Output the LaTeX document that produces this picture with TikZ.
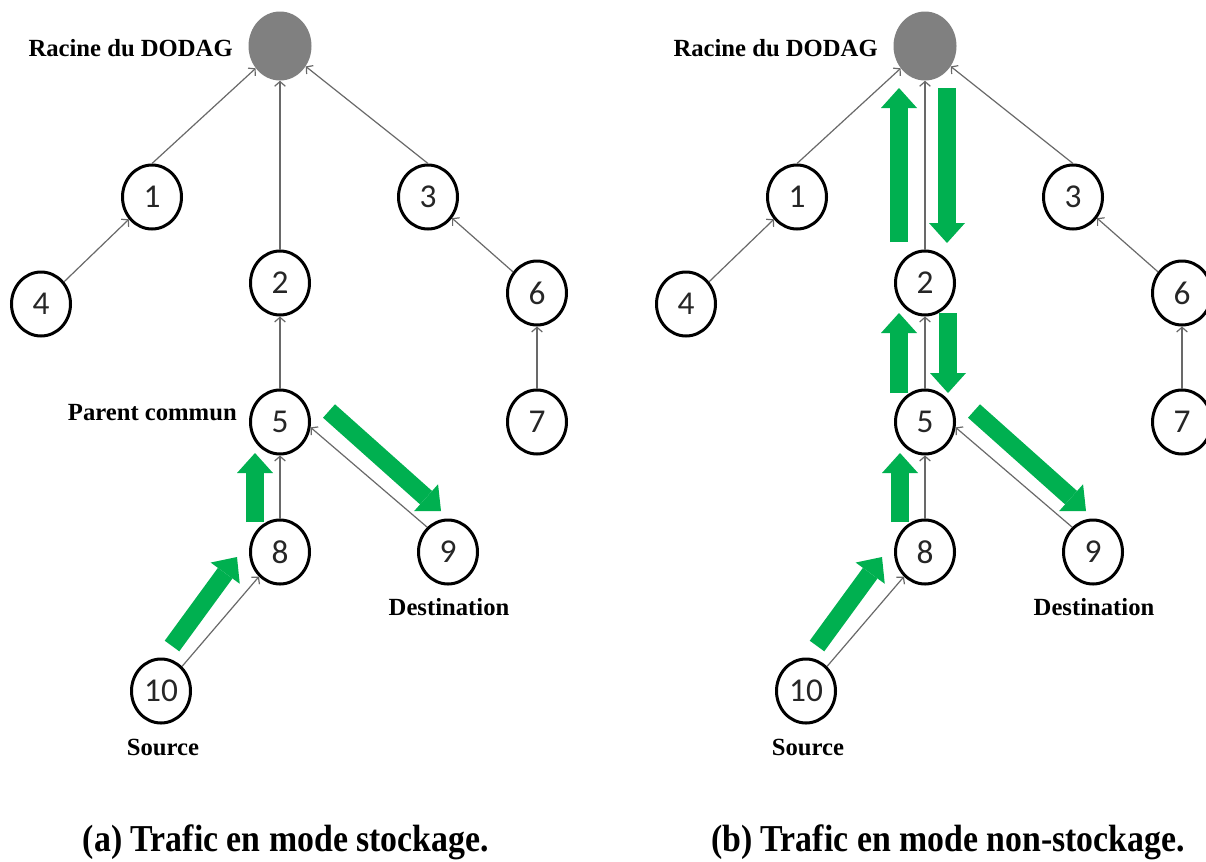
\documentclass[tikz,border=0pt]{standalone}
\usepackage{fontspec}
\setmainfont{Liberation Serif}
\newfontfamily\numfont{Carlito}
\newfontfamily\capfont[FakeStretch=0.89]{Liberation Serif}
\usetikzlibrary{arrows.meta,shapes.geometric}
\definecolor{grn}{RGB}{0,176,80}
\definecolor{edgegray}{RGB}{105,105,105}
\definecolor{rootgray}{RGB}{128,128,128}
\tikzset{
  nd/.style={ellipse, draw=black, line width=2.25pt, minimum width=44.25pt, minimum height=48pt,
    inner sep=0pt, fill=white, text=black!85, font=\numfont\fontsize{25}{25}\selectfont},
  rootnd/.style={ellipse, fill=rootgray, minimum width=47.25pt, minimum height=51.75pt, inner sep=0pt},
  conn/.style={draw=edgegray, line width=0.9pt, -{Straight Barb[length=3.5pt,width=8pt]}},
  flow/.style={draw=grn, line width=13.5pt, -{Triangle[length=15pt,width=27pt,line width=0pt]}},
  lbl/.style={font=\bfseries\fontsize{18.5}{20}\selectfont, inner sep=0pt},
  captxt/.style={font=\capfont\bfseries\fontsize{28.5}{30}\selectfont, inner sep=0pt, anchor=base},
}
\newcommand{\drawdodag}{%
  \node[rootnd] (r) at (280,46) {};
  \node[nd] (n1) at (152,197) {1};
  \node[nd] (n2) at (280,283) {2};
  \node[nd] (n3) at (428,197) {3};
  \node[nd] (n4) at (41,304) {4};
  \node[nd] (n5) at (280,422) {5};
  \node[nd] (n6) at (537,293) {6};
  \node[nd] (n7) at (537,422) {7};
  \node[nd] (n8) at (280,552) {8};
  \node[nd] (n9) at (448,552) {9};
  \node[nd] (n10) at (161,691) {10};
  \node[lbl, anchor=east] (lr) at (233,48) {Racine du DODAG};
  \node[lbl] (ld) at (449,607) {Destination};
  \node[lbl] (ls) at (163,747) {Source};
  \draw[conn] (n1.north) -- (r);
  \draw[conn] (n2.north) -- (r);
  \draw[conn] (n3.north) -- (r);
  \draw[conn] (n4) -- (n1);
  \draw[conn] (n5) -- (n2);
  \draw[conn] (n6) -- (n3);
  \draw[conn] (n7) -- (n6);
  \draw[conn] (n8) -- (n5);
  \draw[conn] (n9.130) -- (n5.-10);
  \draw[conn] (n10) -- (n8);
}
\begin{document}
\begin{tikzpicture}[x=0.75pt,y=-0.75pt]
\useasboundingbox (0,0) rectangle (1206,861);
\clip (0,0) rectangle (1206,861);
\fill[white] (0,0) rectangle (1206,861);
% (a) storing mode
\begin{scope}[name prefix=a-]
  \drawdodag
  \node[lbl, anchor=east] (lp) at (237,413) {Parent commun};
  \coordinate (f1s) at (172,646); \coordinate (f1e) at (237,557);
  \coordinate (f2s) at (255,522); \coordinate (f2e) at (255,453);
  \coordinate (f3s) at (329,411); \coordinate (f3e) at (441,511);
  \draw[flow] (f1s) -- (f1e);
  \draw[flow] (f2s) -- (f2e);
  \draw[flow] (f3s) -- (f3e);
  \node[captxt] (capa) at (286,851) {(a) Trafic en mode stockage.};
\end{scope}
% (b) non-storing mode
\begin{scope}[xshift=483.75pt, name prefix=b-]
  \drawdodag
  \coordinate (f1s) at (172,646); \coordinate (f1e) at (237,557);
  \coordinate (f2s) at (255,522); \coordinate (f2e) at (255,453);
  \coordinate (f3s) at (329,411); \coordinate (f3e) at (441,511);
  \coordinate (f4s) at (254,242); \coordinate (f4e) at (254,88);
  \coordinate (f5s) at (302,88);  \coordinate (f5e) at (302,243);
  \coordinate (f6s) at (254,393); \coordinate (f6e) at (254,313);
  \coordinate (f7s) at (303,313); \coordinate (f7e) at (303,393);
  \draw[flow] (f1s) -- (f1e);
  \draw[flow] (f2s) -- (f2e);
  \draw[flow] (f3s) -- (f3e);
  \draw[flow] (f4s) -- (f4e);
  \draw[flow] (f5s) -- (f5e);
  \draw[flow] (f6s) -- (f6e);
  \draw[flow] (f7s) -- (f7e);
  \node[captxt] (capb) at (303,851) {(b) Trafic en mode non-stockage.};
\end{scope}
\end{tikzpicture}
\end{document}
